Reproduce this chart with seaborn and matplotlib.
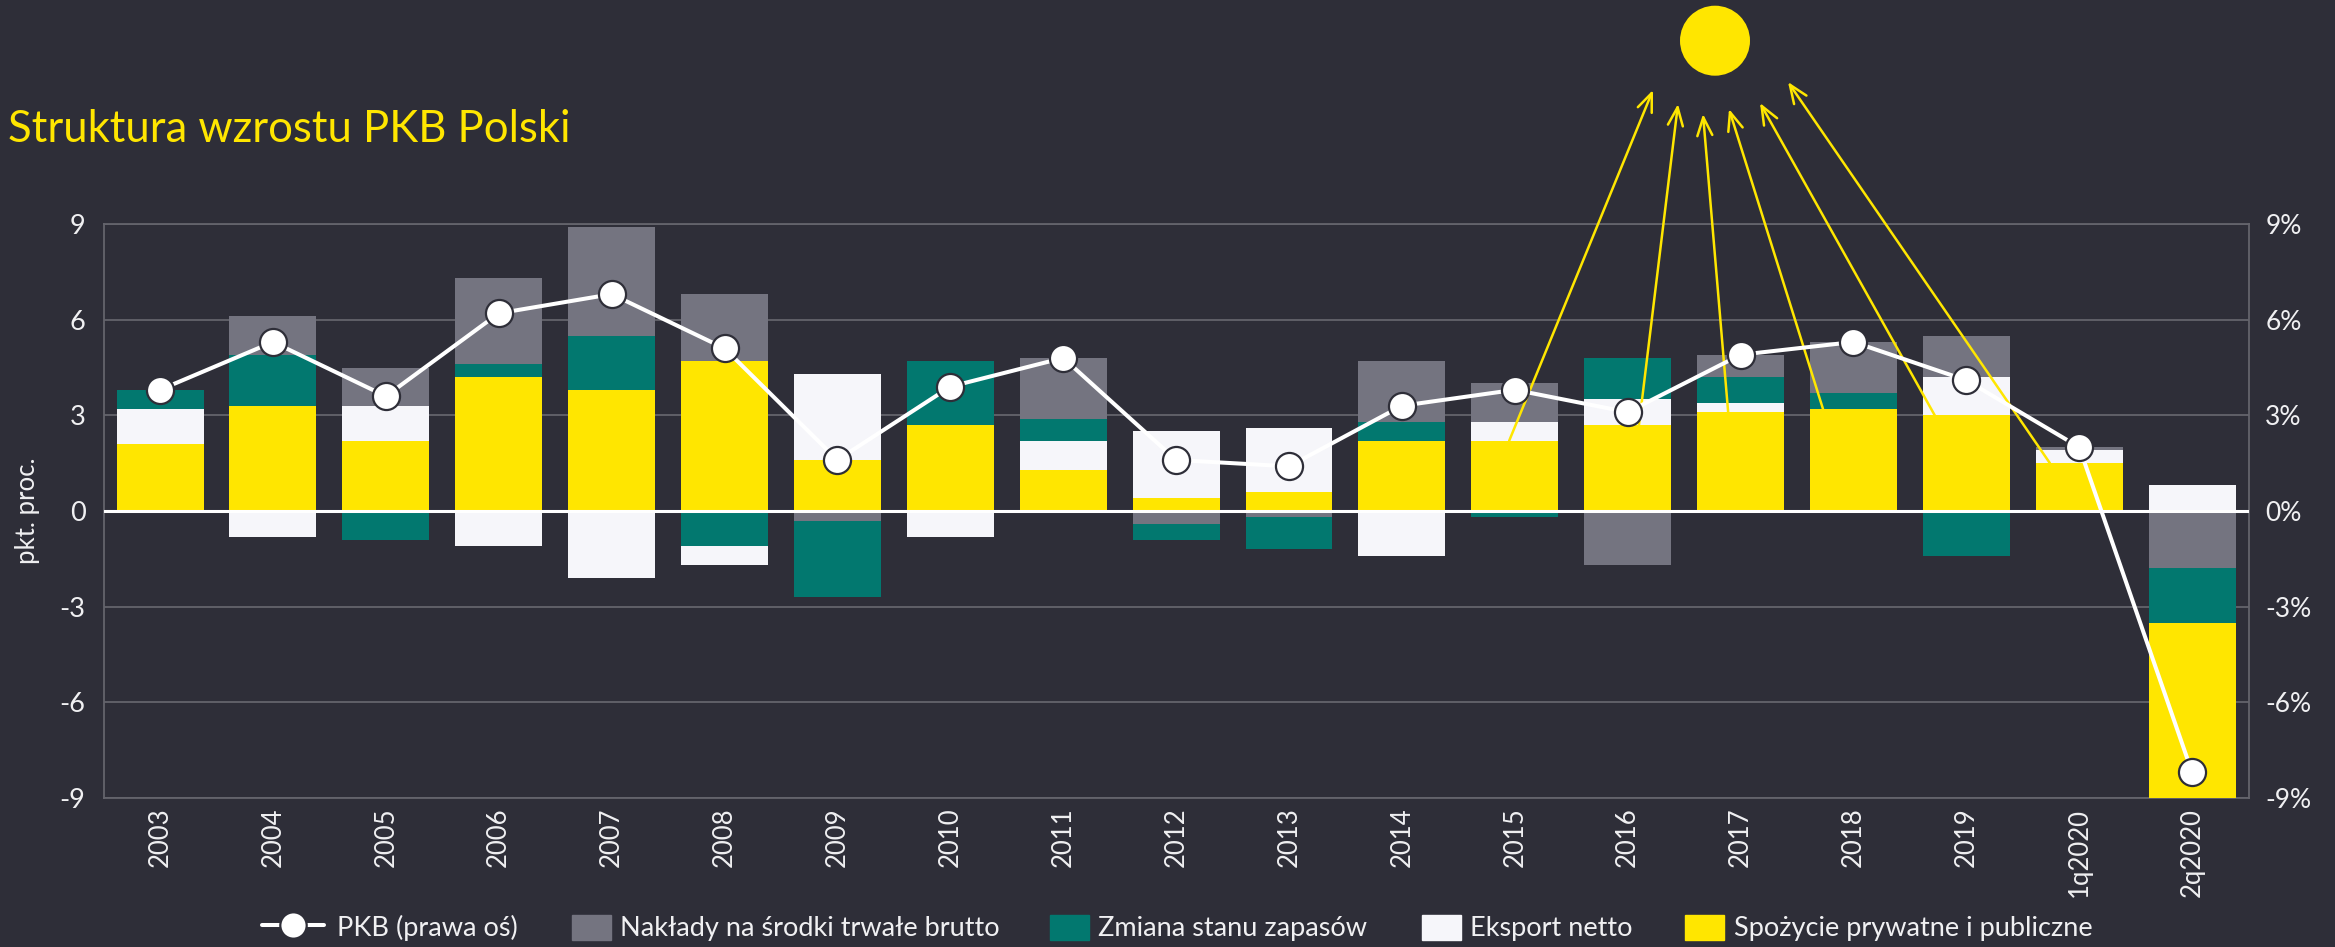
import numpy as np
import pandas as pd
import seaborn as sns
import matplotlib
matplotlib.use("Agg")
import matplotlib.pyplot as plt
from matplotlib.patches import Ellipse, Patch
from matplotlib.lines import Line2D

categories = ["2003","2004","2005","2006","2007","2008","2009","2010","2011","2012",
              "2013","2014","2015","2016","2017","2018","2019","1q2020","2q2020"]
# Values in percentage points
spozycie = [2.1,3.3,2.2,4.2,3.8,4.7,1.6,2.7,1.3,0.4,0.6,2.2,2.2,2.7,3.1,3.2,3.0,1.5,-5.5]
eksport  = [1.1,-0.8,1.1,-1.1,-2.1,-0.6,2.7,-0.8,0.9,2.1,2.0,-1.4,0.6,0.8,0.3,0.0,1.2,0.4,0.8]
zapasy   = [0.6,1.6,-0.9,0.4,1.7,-1.1,-2.4,2.0,0.7,-0.5,-1.0,0.6,-0.2,1.3,0.8,0.5,-1.4,0.0,-1.7]
naklady  = [0.0,1.2,1.2,2.7,3.4,2.1,-0.3,0.0,1.9,-0.4,-0.2,1.9,1.2,-1.7,0.7,1.6,1.3,0.1,-1.8]
pkb      = [3.8,5.3,3.6,6.2,6.8,5.1,1.6,3.9,4.8,1.6,1.4,3.3,3.8,3.1,4.9,5.3,4.1,2.0,-8.2]

title = "Struktura wzrostu PKB Polski"
ylabel = "pkt. proc."
label_pkb = "PKB (prawa oś)"
label_nak = "Nakłady na środki trwałe brutto"
label_zap = "Zmiana stanu zapasów"
label_eks = "Eksport netto"
label_spo = "Spożycie prywatne i publiczne"

BG, GREY, TEAL, WHITE, YEL = "#2E2E38", "#747480", "#02786F", "#F6F6FA", "#FFE600"
GRID, TXT = "#64646C", "#F0F0F2"
W, H = 2335, 947

sns.set_theme(style="white")
plt.rcParams["font.family"] = ["Lato", "DejaVu Sans"]

fig = plt.figure(figsize=(W/100, H/100), dpi=100, facecolor=BG)
L, R, T, B = 103.6, 2248.6, 224, 798
ax = fig.add_axes([L/W, 1-B/H, (R-L)/W, (B-T)/H], facecolor=BG)

# stacked, diverging layers: positives build up in this order, negatives in the reverse one
layers = [(spozycie, YEL), (eksport, WHITE), (zapasy, TEAL), (naklady, GREY)]
n = len(categories)
pos = np.zeros(n)
bases = []
for vals, col in layers:
    v = np.array(vals, dtype=float)
    bases.append(pos.copy())
    pos += np.clip(v, 0, None)
neg = np.zeros(n)
for i in range(len(layers)-1, -1, -1):
    v = np.array(layers[i][0], dtype=float)
    bases[i] = np.where(v >= 0, bases[i], neg)
    neg += np.clip(v, None, 0)
for (vals, col), base in zip(layers, bases):
    sns.barplot(x=categories, y=np.array(vals, dtype=float), bottom=base, color=col, saturation=1,
                width=0.77, ax=ax, zorder=3, linewidth=0, order=categories)

ax.set_xlim(-0.5, n-0.5)
ax.set_ylim(-9, 9)
ax.set_yticks(np.arange(-9, 10, 3))
ax.set_yticklabels([str(t) for t in np.arange(-9, 10, 3)], fontsize=19.5, color=TXT)
ax.yaxis.grid(True, color=GRID, lw=1.3, zorder=1)
ax.set_axisbelow(True)
ax.xaxis.grid(False)
ax.tick_params(axis="y", length=0, pad=13)
ax.tick_params(axis="x", length=0, pad=7)
plt.setp(ax.get_xticklabels(), rotation=90, fontsize=18.5, color=TXT, ha="center", va="top")
for s in ax.spines.values():
    s.set_color(GRID); s.set_linewidth(1.3)
ax.axhline(0, color="white", lw=2.2, zorder=4)
fig.text(15/W, 1-511/H, ylabel, rotation=90, ha="left", va="center", fontsize=18.5, color=TXT)

# arrows from the bars up towards the sun
def fig_xy(px, py):
    return (px/W, 1-py/H)
arrow_tails = [(12, 2.2), (13, 2.7), (14, 3.1), (15, 3.2), (16, 3.0), (17, 1.5)]
tail_off = [-0.05, 0.10, -0.11, -0.27, -0.28, -0.26]
heads_px = [(1653,90),(1678,104),(1703,114),(1729,109),(1760,103),(1788,82)]
for (xv, yv), dx, hp in zip(arrow_tails, tail_off, heads_px):
    ax.annotate("", xy=fig_xy(*hp), xycoords="figure fraction",
                xytext=(xv+dx, yv), textcoords="data",
                arrowprops=dict(arrowstyle="->,head_length=1.1,head_width=0.45", color=YEL,
                                lw=1.8, shrinkA=0, shrinkB=0), zorder=5, annotation_clip=False)

fig.add_artist(Ellipse((1715, H-40.7), 70, 70, transform=None, facecolor=YEL, edgecolor="none"))

# right axis with the GDP line
ax2 = ax.twinx()
ax2.set_ylim(-9, 9)
ax2.set_yticks(np.arange(-9, 10, 3))
ax2.set_yticklabels([f"{t}%" for t in np.arange(-9, 10, 3)], fontsize=19, color=TXT)
ax2.tick_params(axis="y", length=0, pad=12)
ax2.grid(False)
for s in ax2.spines.values():
    s.set_visible(False)
sns.lineplot(x=np.arange(n), y=pkb, ax=ax2, color="white", lw=2.9,
             marker="o", markersize=19.5, markerfacecolor="white",
             markeredgecolor=BG, markeredgewidth=1.6, errorbar=None, zorder=6, legend=False)
ax2.set_xlim(-0.5, n-0.5)

fig.text(8/W, 1-130/H, title, color=YEL, fontsize=31.4, ha="left", va="center")

# legend entries, each placed on its own
entries = [
    (Line2D([], [], color="white", lw=2.9, marker="o", markersize=19, markerfacecolor="white",
            markeredgecolor=BG, markeredgewidth=1.6), label_pkb, 262, 62),
    (Patch(color=GREY), label_nak, 572, 38.5),
    (Patch(color=TEAL), label_zap, 1050, 38.5),
    (Patch(color=WHITE), label_eks, 1422, 38.5),
    (Patch(color=YEL), label_spo, 1685, 38.5),
]
FS = 19.5
for h, lab, x0, wpx in entries:
    fs_px = FS*100/72
    leg = fig.legend([h], [lab], loc="center left", bbox_to_anchor=(x0/W, 1-928/H),
                     bbox_transform=fig.transFigure, frameon=False, fontsize=FS,
                     handlelength=wpx/fs_px, handleheight=28.5/fs_px,
                     handletextpad=(13 if wpx > 50 else 10)/fs_px, borderpad=0, borderaxespad=0)
    for t in leg.get_texts():
        t.set_color(TXT)

fig.savefig("out.png", dpi=100, facecolor=BG)
